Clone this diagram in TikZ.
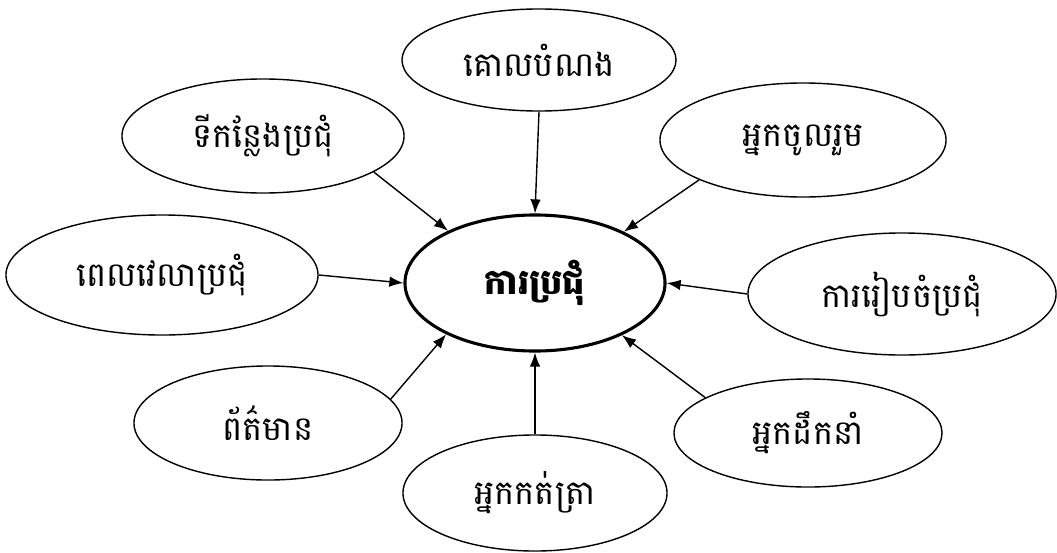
\documentclass[tikz,border=0pt]{standalone}
\usepackage{fontspec}
\newfontfamily\khmer[Script=Khmer]{Battambang}
\usetikzlibrary{arrows.meta,shapes.geometric}

\begin{document}
\begin{tikzpicture}[x=0.025cm,y=-0.025cm,
  bubble/.style={draw,ellipse,line width=1pt,inner sep=0pt,font=\khmer\fontsize{24}{28}\selectfont},
  hub/.style={draw,ellipse,line width=2.2pt,inner sep=0pt,font=\khmer\bfseries\fontsize{25}{30}\selectfont},
  feed/.style={-{Latex[length=10pt,width=7.5pt]},line width=1pt}]
  \useasboundingbox (0,0) rectangle (1057,552);
  % centre
  \node[hub,minimum width=6.5cm,minimum height=3.4cm] (meet) at (535,283) {ការប្រជុំ};
  % around it
  \node[bubble,minimum width=6.85cm,minimum height=2.55cm] (goal) at (539,60) {គោលបំណង};
  \node[bubble,minimum width=7.05cm,minimum height=2.85cm] (place) at (263,136) {ទីកន្លែងប្រជុំ};
  \node[bubble,minimum width=7.15cm,minimum height=2.85cm] (member) at (803,140) {អ្នកចូលរួម};
  \node[bubble,minimum width=7.8cm,minimum height=3.0cm] (time) at (162,275) {ពេលវេលាប្រជុំ};
  \node[bubble,minimum width=7.7cm,minimum height=3.05cm] (prep) at (902,294) {ការរៀបចំប្រជុំ};
  \node[bubble,minimum width=6.7cm,minimum height=2.85cm] (news) at (268,423) {ព័ត៌មាន};
  \node[bubble,minimum width=6.7cm,minimum height=2.7cm] (lead) at (808,433) {អ្នកដឹកនាំ};
  \node[bubble,minimum width=6.6cm,minimum height=2.9cm] (note) at (535,493) {អ្នកកត់ត្រា};
  % arrows
  \draw[feed] (goal.south) -- (meet.north);
  \draw[feed] (place.-18) -- (meet.149);
  \draw[feed] (member.-159) -- (meet.30);
  \draw[feed] (time.east) -- (meet.west);
  \draw[feed] (prep.west) -- (meet.east);
  \draw[feed] (news.11) -- (meet.210);
  \draw[feed] (lead.161) -- (meet.-31);
  \draw[feed] (note.north) -- (meet.south);
\end{tikzpicture}
\end{document}
